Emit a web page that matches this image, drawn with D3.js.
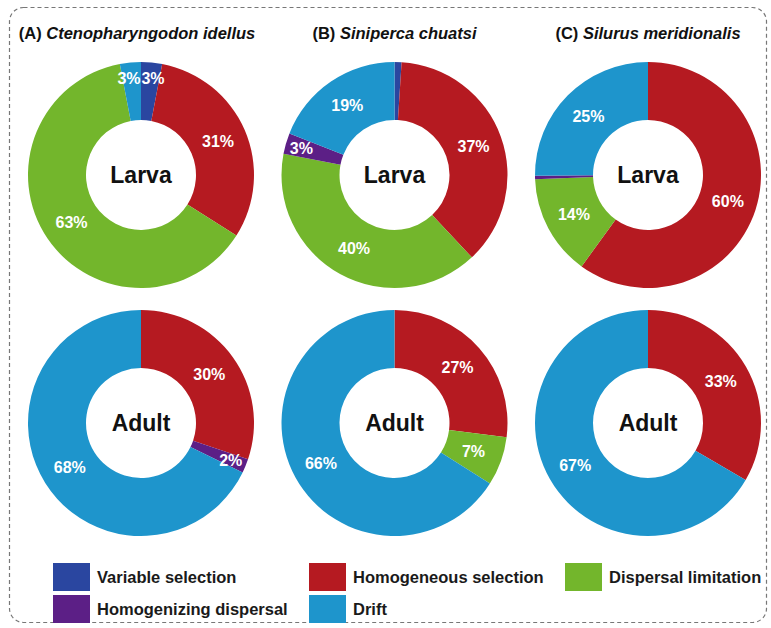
<!DOCTYPE html>
<html>
<head>
<meta charset="utf-8">
<script src="https://cdn.jsdelivr.net/npm/d3@7"></script>
<style>
  html, body { margin: 0; padding: 0; background: #fff; }
  svg text { font-family: "Liberation Sans", Arial, Helvetica, sans-serif; }
</style>
</head>
<body>
<div id="chart"></div>
<script>
// categories, in clockwise slice order
const categories = ["Variable selection", "Homogeneous selection", "Dispersal limitation", "Homogenizing dispersal", "Drift"];
const colors = ["#2a46a0", "#b51a21", "#73b62c", "#5c1f86", "#1e95cc"];

const letters = ["(A)", "(B)", "(C)"];
const species = ["Ctenopharyngodon idellus", "Siniperca chuatsi", "Silurus meridionalis"];
const stages = ["Larva", "Adult"];

// percentages per category (same order as categories)
const larvaA = [3.0, 31.0, 63.0, 0, 3.0];
const larvaB = [1.0, 37.0, 40.0, 3.0, 19.0];
const larvaC = [0, 60.0, 14.4, 0.5, 25.1];
const adultA = [0, 30.2, 0, 2.0, 67.8];
const adultB = [0, 27.0, 7.0, 0, 66.0];
const adultC = [0, 33.4, 0, 0, 66.6];

const panels = [
  { sp: 0, stage: "Larva", values: larvaA },
  { sp: 1, stage: "Larva", values: larvaB },
  { sp: 2, stage: "Larva", values: larvaC },
  { sp: 0, stage: "Adult", values: adultA },
  { sp: 1, stage: "Adult", values: adultB },
  { sp: 2, stage: "Adult", values: adultC },
];

const width = 771, height = 628;
const outerR = 113, innerR = 55;

const svg = d3.select("#chart").append("svg")
  .attr("width", width)
  .attr("height", height);

// dashed frame
svg.append("rect")
  .attr("x", 9.5).attr("y", 7.5)
  .attr("width", 757).attr("height", 615)
  .attr("rx", 14)
  .attr("fill", "none")
  .attr("stroke", "#777")
  .attr("stroke-width", 1.2)
  .attr("stroke-dasharray", "4,3");

const x = d3.scalePoint().domain(d3.range(species.length)).range([141, 648]);
const y = d3.scalePoint().domain(stages).range([175, 423]);
const color = d3.scaleOrdinal().domain(categories).range(colors);

// titles
const titles = svg.append("g").selectAll("text")
  .data(species)
  .join("text")
  .attr("x", (d, i) => x(i) - (i === 0 ? 4 : 0))
  .attr("y", 39)
  .attr("text-anchor", "middle")
  .attr("font-size", 16.5)
  .attr("font-weight", "bold")
  .attr("fill", "#111");
titles.append("tspan").text((d, i) => letters[i] + " ");
titles.append("tspan").attr("font-style", "italic").text(d => d);

const pie = d3.pie().sort(null).value(d => d.value);
const arc = d3.arc().innerRadius(innerR).outerRadius(outerR);
const fmt = v => Math.round(v) + "%";

panels.forEach(p => {
  const data = categories.map((c, i) => ({ cat: c, value: p.values[i] }));
  const arcs = pie(data).filter(a => a.data.value > 0);

  const g = svg.append("g")
    .attr("transform", `translate(${x(p.sp)},${y(p.stage)})`);

  g.selectAll("path")
    .data(arcs)
    .join("path")
    .attr("d", arc)
    .attr("fill", d => color(d.data.cat));

  // labels: centroid, small slices pushed outward
  const labelled = arcs.filter(a => a.data.value >= 2).map(a => {
    const mid = (a.startAngle + a.endAngle) / 2;
    const r = a.data.value < 5 ? 97 : (innerR + outerR) / 2;
    return { a, lx: Math.sin(mid) * r, ly: -Math.cos(mid) * r };
  });

  // push overlapping neighbours apart
  const w = 24;
  for (let i = 0; i < labelled.length; i++) {
    for (let j = i + 1; j < labelled.length; j++) {
      const A = labelled[i], B = labelled[j];
      const dx = B.lx - A.lx;
      if (Math.abs(B.ly - A.ly) < 14 && Math.abs(dx) < w) {
        const push = (w - Math.abs(dx)) / 2;
        const s = dx >= 0 ? 1 : -1;
        A.lx -= s * push;
        B.lx += s * push;
      }
    }
  }

  g.selectAll("text.pct")
    .data(labelled)
    .join("text")
    .attr("class", "pct")
    .attr("x", d => d.lx)
    .attr("y", d => d.ly)
    .attr("dy", "0.36em")
    .attr("text-anchor", "middle")
    .attr("font-size", 16)
    .attr("font-weight", "bold")
    .attr("fill", "#fff")
    .text(d => fmt(d.a.data.value));

  g.append("text")
    .attr("text-anchor", "middle")
    .attr("dy", "0.36em")
    .attr("font-size", 23)
    .attr("font-weight", "bold")
    .attr("fill", "#111")
    .text(p.stage);
});

// legend
const legendX = d3.scalePoint().domain([0, 1, 2]).range([53, 565]);
const legendY = d3.scalePoint().domain([0, 1]).range([563, 595]);

const item = svg.append("g").selectAll("g")
  .data(categories)
  .join("g")
  .attr("transform", (d, i) => `translate(${legendX(i % 3)},${legendY(Math.floor(i / 3))})`);

item.append("rect")
  .attr("width", 37)
  .attr("height", 28)
  .attr("fill", d => color(d));

item.append("text")
  .attr("x", 44)
  .attr("y", 14)
  .attr("dy", "0.36em")
  .attr("font-size", 16.5)
  .attr("font-weight", "bold")
  .attr("fill", "#1a1a1a")
  .text(d => d);
</script>
</body>
</html>
